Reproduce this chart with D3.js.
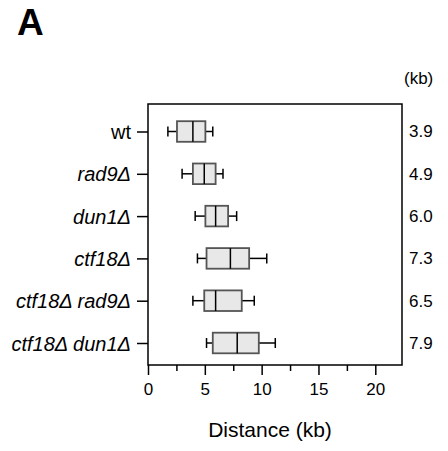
<!DOCTYPE html>
<html><head><meta charset="utf-8">
<script src="https://cdn.jsdelivr.net/npm/d3@7/dist/d3.min.js"></script>
<style>body{margin:0;background:#fff}svg{display:block}text{font-family:Arial,"Liberation Sans",sans-serif;fill:#000}</style>
</head><body><svg id="c" width="448" height="451"></svg>
<script>
const categories = ["wt", "rad9Δ", "dun1Δ", "ctf18Δ", "ctf18Δ rad9Δ", "ctf18Δ dun1Δ"];
const italicLabel = [false, true, true, true, true, true];
const whiskerLow = [1.75, 3.0, 4.15, 4.35, 3.95, 5.15];
const q1 = [2.55, 3.95, 5.05, 5.15, 4.95, 5.7];
const median = [3.95, 4.95, 5.95, 7.25, 5.95, 7.85];
const q3 = [5.05, 5.95, 7.05, 8.9, 8.25, 9.75];
const whiskerHigh = [5.7, 6.6, 7.8, 10.45, 9.35, 11.2];
const meanLabels = ["3.9", "4.9", "6.0", "7.3", "6.5", "7.9"];
const majorTicks = [0, 5, 10, 15, 20];
const minorTicks = [2.5, 7.5, 12.5, 17.5];

const svg = d3.select("#c");
const pL = 148, pR = 402, pT = 104, pB = 365;
const x = d3.scaleLinear().domain([0, 22.35]).range([pL, pR]);
const y = d3.scalePoint().domain(categories).range([131.5, 343]);

// panel letter
svg.append("text").attr("x", 17).attr("y", 35).attr("font-size", 37).attr("font-weight", "bold").text("A");

// frame
svg.append("rect").attr("x", pL).attr("y", pT).attr("width", pR - pL).attr("height", pB - pT)
  .attr("fill", "none").attr("stroke", "#000").attr("stroke-width", 1.5);

// x axis
const xa = svg.append("g").attr("transform", `translate(0,${pB})`)
  .call(d3.axisBottom(x).tickValues(majorTicks).tickSize(10).tickPadding(8).tickFormat(d3.format("d")));
xa.select(".domain").remove();
xa.selectAll("line").attr("stroke-width", 1.5);
xa.selectAll("text").attr("font-size", 17).attr("font-family", "Arial, 'Liberation Sans', sans-serif");
const xm = svg.append("g").attr("transform", `translate(0,${pB})`)
  .call(d3.axisBottom(x).tickValues(minorTicks).tickSize(6).tickFormat(""));
xm.select(".domain").remove();
xm.selectAll("line").attr("stroke-width", 1.5);

// y axis
const ya = svg.append("g").attr("transform", `translate(${pL},0)`)
  .call(d3.axisLeft(y).tickSize(11).tickPadding(6));
ya.select(".domain").remove();
ya.selectAll("line").attr("stroke-width", 1.5);
ya.selectAll("text").attr("font-size", 20).attr("font-family", "Arial, 'Liberation Sans', sans-serif")
  .attr("font-style", (d, i) => italicLabel[i] ? "italic" : "normal").attr("dy", "0.35em");

// boxes
const bh = 10.3, ch = 5;
const g = svg.append("g");
categories.forEach((c, i) => {
  const cy = y(c);
  g.append("line").attr("x1", x(whiskerLow[i])).attr("x2", x(q1[i])).attr("y1", cy).attr("y2", cy).attr("stroke", "#000").attr("stroke-width", 1.5);
  g.append("line").attr("x1", x(q3[i])).attr("x2", x(whiskerHigh[i])).attr("y1", cy).attr("y2", cy).attr("stroke", "#000").attr("stroke-width", 1.5);
  g.append("line").attr("x1", x(whiskerLow[i])).attr("x2", x(whiskerLow[i])).attr("y1", cy - ch).attr("y2", cy + ch).attr("stroke", "#000").attr("stroke-width", 1.5);
  g.append("line").attr("x1", x(whiskerHigh[i])).attr("x2", x(whiskerHigh[i])).attr("y1", cy - ch).attr("y2", cy + ch).attr("stroke", "#000").attr("stroke-width", 1.5);
  g.append("rect").attr("x", x(q1[i])).attr("y", cy - bh).attr("width", x(q3[i]) - x(q1[i])).attr("height", 2 * bh)
    .attr("fill", "#e8e8e8").attr("stroke", "#555").attr("stroke-width", 1.8);
  g.append("line").attr("x1", x(median[i])).attr("x2", x(median[i])).attr("y1", cy - bh).attr("y2", cy + bh).attr("stroke", "#000").attr("stroke-width", 1.5);
});

// right labels
svg.append("text").attr("x", 404).attr("y", 84).attr("font-size", 17).text("(kb)");
svg.append("g").selectAll("text").data(meanLabels).join("text")
  .attr("x", 409).attr("y", (d, i) => y(categories[i])).attr("dy", "0.35em").attr("font-size", 17).text(d => d);

// axis title
svg.append("text").attr("x", 270).attr("y", 437).attr("text-anchor", "middle").attr("font-size", 21).text("Distance (kb)");
</script></body></html>
